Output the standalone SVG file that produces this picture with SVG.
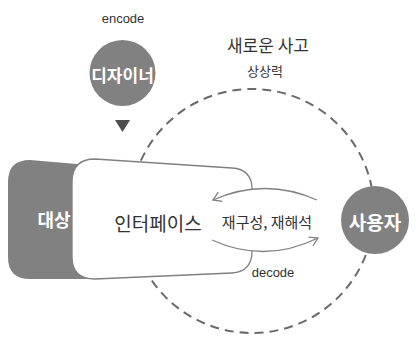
<svg xmlns="http://www.w3.org/2000/svg" width="420" height="343" viewBox="0 0 420 343">
<style>
  text { font-family: "Noto Sans CJK KR", "Noto Sans", sans-serif; text-anchor: middle; dominant-baseline: central; }
  .lat { font-family: "Liberation Sans", "Noto Sans CJK KR", sans-serif; }
  .lbl { fill: #333333; }
  .wt { fill: #ffffff; font-weight: bold; }
  .node { fill: #818181; }
  .line { fill: none; stroke: #808080; stroke-width: 1.3; }
  .dash { fill: none; stroke: #6a6a6a; stroke-width: 2; stroke-dasharray: 9 6; }
</style>
<defs>
  <marker id="chev" markerWidth="12" markerHeight="12" refX="9" refY="6" orient="auto" markerUnits="userSpaceOnUse">
    <path d="M1 1 L9 6 L1 11" fill="none" stroke="#808080" stroke-width="1.3"/>
  </marker>
</defs>
<rect width="420" height="343" fill="#ffffff"/>

<g id="imagination">
  <circle class="dash" cx="252" cy="211" r="122"/>
  <text class="lbl" x="268" y="44" font-size="17">새로운 사고</text>
  <text class="lbl" x="265" y="70" font-size="13">상상력</text>
</g>

<g id="target">
  <path class="node" d="M8 182 Q8 160 30 160 L100 166 L100 279 L30 279 Q8 279 8 257 Z"/>
  <text class="wt" x="54" y="219" font-size="18">대상</text>
</g>

<g id="interface">
  <path fill="#ffffff" d="M252 189 L252 251 C252 262 248 272 232 273 L95 279 Q72 279 72 257 L72 182 Q72 159 95 159 L232 168 C248 169 252 178 252 189 Z"/>
  <path class="line" d="M252 251 C252 262 248 272 232 273 L95 279 Q72 279 72 257 L72 182 Q72 159 95 159 L232 168 C248 169 252 178 252 189"/>
  <text class="lbl" x="158" y="222" font-size="19">인터페이스</text>
</g>

<g id="designer">
  <text class="lbl lat" x="123" y="18" font-size="13">encode</text>
  <circle class="node" cx="122.5" cy="73" r="33"/>
  <text class="wt" x="122.5" y="74" font-size="17">디자이너</text>
  <polygon points="115,120 130,120 122.5,132" fill="#4d4d4d"/>
</g>

<g id="user">
  <circle class="node" cx="375" cy="220" r="34"/>
  <text class="wt" x="375" y="221" font-size="19">사용자</text>
</g>

<g id="connectors">
  <path class="line" d="M317 200 Q265 177 213 200" marker-end="url(#chev)"/>
  <path class="line" d="M212 240 Q265 264 318 238" marker-end="url(#chev)"/>
  <text class="lbl" x="267" y="221" font-size="15">재구성, 재해석</text>
  <text class="lbl lat" x="273" y="272" font-size="13">decode</text>
</g>
</svg>
